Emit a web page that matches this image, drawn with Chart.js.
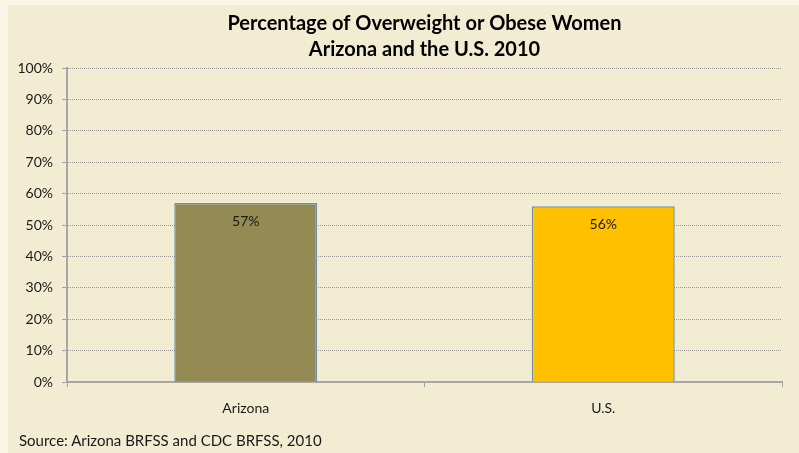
<!DOCTYPE html>
<html>
<head>
<meta charset="utf-8">
<script src="https://cdn.jsdelivr.net/npm/chart.js@4.4.0/dist/chart.umd.min.js"></script>
<style>
  html, body { margin: 0; padding: 0; width: 799px; height: 453px; overflow: hidden; background: #FBF5E6; }
  #panel { position: absolute; left: 8px; top: 5px; width: 791px; height: 448px; background: #F2ECD2; }
  #wrap { position: absolute; left: 0; top: 0; width: 791px; height: 448px; }
  #source { position: absolute; left: 11px; top: 426px; font-family: Lato, "Open Sans", sans-serif; font-size: 15px; line-height: 18px; color: #1a1a1a; }
</style>
</head>
<body>
<div id="panel">
  <div id="wrap"><canvas id="c"></canvas></div>
  <div id="source">Source: Arizona BRFSS and CDC BRFSS, 2010</div>
</div>
<script>
const categories = ["Arizona", "U.S."];
const values = [57, 56];
const labelsText = ["57%", "56%"];
const barColors = ["#948A54", "#FFC000"];
const titleLines = ["Percentage of Overweight or Obese Women", "Arizona and the U.S. 2010"];
const yTicks = [0, 10, 20, 30, 40, 50, 60, 70, 80, 90, 100];

const dataLabelPlugin = {
  id: 'dataLabels',
  afterLayout(chart) {
    // centre the title over the plot area
    const tb = chart.titleBlock;
    if (tb) {
      tb.left = chart.chartArea.left;
      tb.right = chart.chartArea.right;
      tb.width = tb.right - tb.left;
    }
  },
  afterDatasetsDraw(chart) {
    const ctx = chart.ctx;
    const meta = chart.getDatasetMeta(0);
    ctx.save();
    ctx.font = '14px Lato, "Open Sans", sans-serif';
    ctx.fillStyle = '#1a1a1a';
    ctx.textAlign = 'center';
    ctx.textBaseline = 'middle';
    meta.data.forEach((bar, i) => {
      ctx.fillText(labelsText[i], bar.x, bar.y + 18);
    });
    ctx.restore();
  }
};

new Chart(document.getElementById('c'), {
  type: 'bar',
  data: {
    labels: categories,
    datasets: [{
      data: values,
      backgroundColor: barColors,
      borderColor: '#7390A8',
      borderWidth: 1.5,
      barPercentage: 0.4,
      categoryPercentage: 1.0
    }]
  },
  options: {
    responsive: true,
    maintainAspectRatio: false,
    animation: false,
    devicePixelRatio: 1,
    layout: { padding: { left: 0, right: 17, top: 6, bottom: 23 } },
    plugins: {
      legend: { display: false },
      tooltip: { enabled: false },
      title: {
        display: true,
        text: titleLines,
        color: '#000',
        font: { family: 'Lato, "Open Sans", sans-serif', size: 20, weight: 'bold', lineHeight: 1.3 },
        padding: { top: 0, bottom: 5 }
      }
    },
    scales: {
      x: {
        grid: { drawOnChartArea: false, drawTicks: true, tickLength: 5, tickColor: '#A0A0A0', offset: true },
        border: { display: true, color: '#A6A6A6', width: 2 },
        ticks: { color: '#1a1a1a', padding: 13, font: { family: 'Lato, "Open Sans", sans-serif', size: 14 } }
      },
      y: {
        min: 0, max: 100,
        afterBuildTicks(scale) { scale.ticks = yTicks.map(v => ({ value: v })); },
        afterFit(scale) { scale.width = 59; },
        grid: { color: '#9A9A9A', lineWidth: 1, tickLength: 5, tickColor: '#A0A0A0', tickBorderDash: [] },
        border: { display: true, color: '#A6A6A6', width: 2, dash: [1, 1] },
        ticks: { color: '#1a1a1a', padding: 9, callback: v => v + '%', font: { family: 'Lato, "Open Sans", sans-serif', size: 14 } }
      }
    }
  },
  plugins: [dataLabelPlugin]
});
</script>
</body>
</html>
